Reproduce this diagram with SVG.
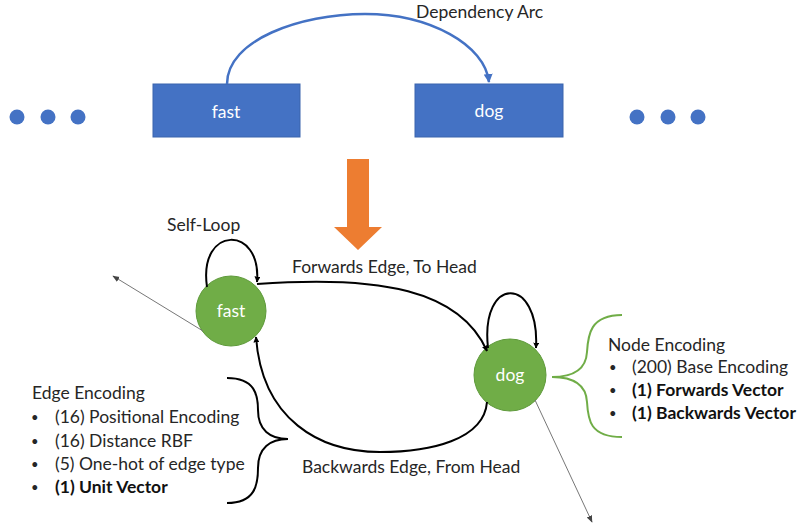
<svg xmlns="http://www.w3.org/2000/svg" width="801" height="529" viewBox="0 0 801 529">
<style>
text{font-family:Lato,"Liberation Sans",sans-serif;font-size:17.5px;fill:#262626}
.w{fill:#fff;text-anchor:middle}
.b{font-weight:bold;fill:#111}
.bu{font-size:13px}
.box{fill:#4472C4;stroke:#3B64AD;stroke-width:1}
.dot{fill:#4472C4}
.circ{fill:#70AD47;stroke:#5E9A3A;stroke-width:1}
.edge{fill:none;stroke:#000;stroke-width:2}
.thin{fill:none;stroke:#777;stroke-width:1}
</style>
<defs>
<marker id="ab" viewBox="0 0 10 10" refX="9" refY="5" markerWidth="6" markerHeight="6" orient="auto" markerUnits="userSpaceOnUse"><path d="M0,0 L10,5 L0,10 z" fill="#000"/></marker>
<marker id="ag" viewBox="0 0 10 10" refX="9" refY="5" markerWidth="7" markerHeight="7" orient="auto" markerUnits="userSpaceOnUse"><path d="M0,1 L10,5 L0,9 z" fill="#444"/></marker>
<marker id="abl" viewBox="0 0 10 10" refX="9" refY="5" markerWidth="9" markerHeight="9" orient="auto" markerUnits="userSpaceOnUse"><path d="M0,0 L10,5 L0,10 z" fill="#4472C4"/></marker>
</defs>

<g id="dots-left"><circle class="dot" cx="17" cy="117" r="7.5"/><circle class="dot" cx="48" cy="117" r="7.5"/><circle class="dot" cx="78" cy="117" r="7.5"/></g>
<g id="dots-right"><circle class="dot" cx="637" cy="117" r="7.5"/><circle class="dot" cx="668" cy="117" r="7.5"/><circle class="dot" cx="698" cy="117" r="7.5"/></g>

<g id="box-fast"><rect class="box" x="153" y="84" width="147" height="53"/><text class="w" x="226" y="118">fast</text></g>
<g id="box-dog"><rect class="box" x="415" y="84" width="148" height="53"/><text class="w" x="489" y="117">dog</text></g>

<g id="dependency-arc">
<path d="M227,84 C227,40 300,14 365,14 C430,14 485,45 489,82" fill="none" stroke="#4472C4" stroke-width="2.5" marker-end="url(#abl)"/>
<text x="416" y="18">Dependency Arc</text>
</g>

<g id="transform-arrow"><path d="M347,159 L369,159 L369,227 L382,227 L358,250 L334,227 L347,227 z" fill="#ED7D31"/></g>

<g id="node-fast"><circle class="circ" cx="231" cy="311" r="35"/><text class="w" x="231" y="317">fast</text></g>
<g id="node-dog"><circle class="circ" cx="510" cy="375" r="36"/><text class="w" x="510" y="381">dog</text></g>

<g id="connectors">
<path class="edge" d="M207,287 C198,225 262,225 257,282" marker-end="url(#ab)"/>
<path class="edge" d="M488,348 C480,275 540,275 536,348" marker-end="url(#ab)"/>
<path class="edge" d="M257,284 C380,275 460,290 487,351" marker-end="url(#ab)"/>
<path class="edge" d="M487,402 C484,440 430,452 380,452 C320,452 262,420 256,337" marker-end="url(#ab)"/>
<path class="thin" d="M203,331 L113,276" marker-end="url(#ag)"/>
<path class="thin" d="M535,400 L592,522" marker-end="url(#ag)"/>
</g>

<g id="labels">
<text x="167" y="231">Self-Loop</text>
<text x="292" y="273">Forwards Edge, To Head</text>
<text x="302" y="473">Backwards Edge, From Head</text>
</g>

<g id="node-encoding">
<path d="M622,315 C590,315 588,335 587,352 C586,370 572,377 552,377 C572,377 586,384 587,402 C588,420 590,437 622,437" fill="none" stroke="#70AD47" stroke-width="2"/>
<text x="608" y="351">Node Encoding</text>
<text class="bu" x="609" y="372">•</text><text x="632" y="373">(200) Base Encoding</text>
<text class="bu" x="609" y="395">•</text><text class="b" x="632" y="396">(1) Forwards Vector</text>
<text class="bu" x="609" y="418">•</text><text class="b" x="632" y="419">(1) Backwards Vector</text>
</g>

<g id="edge-encoding">
<path d="M227,378 C255,378 258,395 258,410 C258,430 270,439 288,439 C270,439 258,448 258,468 C258,485 255,503 227,503" fill="none" stroke="#000" stroke-width="2"/>
<text x="32" y="399">Edge Encoding</text>
<text class="bu" x="31" y="422">•</text><text x="55" y="423">(16) Positional Encoding</text>
<text class="bu" x="31" y="446">•</text><text x="55" y="447">(16) Distance RBF</text>
<text class="bu" x="31" y="469">•</text><text x="55" y="470">(5) One-hot of edge type</text>
<text class="bu" x="31" y="492">•</text><text class="b" x="55" y="493">(1) Unit Vector</text>
</g>
</svg>
